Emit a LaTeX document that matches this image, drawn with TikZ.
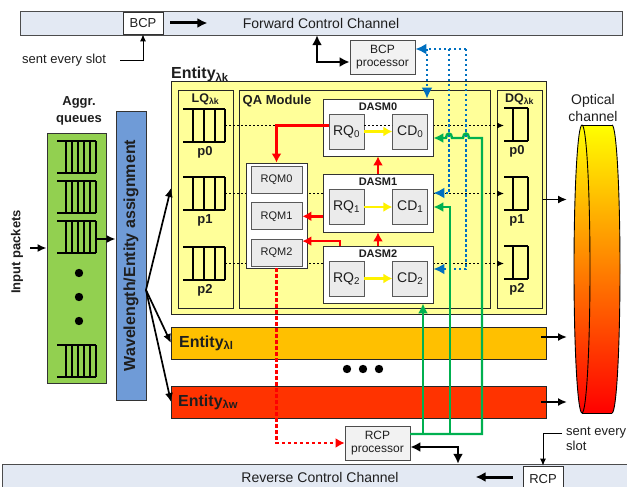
\documentclass[tikz,border=0pt]{standalone}
\usepackage{fontspec}
\setmainfont{Liberation Sans}
\usepackage{xcolor}
\usepackage{tikz}
\usetikzlibrary{arrows.meta,positioning}

\definecolor{chanfill}{HTML}{E3E9F3}
\definecolor{entyellow}{HTML}{FFFF99}
\definecolor{aggrgreen}{HTML}{92D050}
\definecolor{assignblue}{HTML}{6F9BD7}
\definecolor{entorange}{HTML}{FFC000}
\definecolor{entred}{HTML}{FF3300}
\definecolor{ctlblue}{HTML}{0070C0}
\definecolor{ctlgreen}{HTML}{00B050}
\definecolor{procgray}{HTML}{F2F2F2}
\definecolor{cellgray}{HTML}{EBEBEB}
\definecolor{ink}{HTML}{1E1E1E}

\begin{document}
\begin{tikzpicture}[
  x=1pt, y=-1pt,
  every node/.style={text=ink, inner sep=0pt},
  chan/.style={draw=black!70, fill=chanfill, font=\fontsize{14}{14}\selectfont},
  tag/.style={draw=black!80, fill=white, line width=0.8pt, minimum width=40pt, font=\fontsize{13}{13}\selectfont},
  proc/.style={draw=black!70, fill=procgray, line width=0.8pt, align=center, minimum width=65pt, minimum height=34pt, font=\fontsize{12}{13}\selectfont},
  frame/.style={draw=black!85, fill=entyellow, line width=1pt},
  ent/.style={draw=black!85, line width=1pt, minimum width=375pt, minimum height=32pt},
  dasm/.style={draw=black!80, fill=white, line width=0.8pt, minimum width=110pt},
  cell/.style={draw=black!65, fill=cellgray, line width=0.8pt, minimum width=35pt, minimum height=35pt, font=\fontsize{14}{14}\selectfont},
  rqmcell/.style={draw=black!65, fill=cellgray, line width=0.8pt, minimum width=51pt, minimum height=27pt, font=\fontsize{11}{11}\selectfont},
  lbl/.style={font=\bfseries\fontsize{13}{17}\selectfont, align=center},
  entlbl/.style={font=\bfseries\fontsize{16}{16}\selectfont},
  sublbl/.style={font=\bfseries\fontsize{12.5}{13}\selectfont},
  dasmlbl/.style={font=\bfseries\fontsize{11}{11}\selectfont},
  note/.style={font=\fontsize{13}{15}\selectfont, align=left},
  queue/.style={line width=1.2pt},
  arrow/.style={-{Latex[length=9pt,width=8pt]}, line width=1.7pt},
  fatarrow/.style={-{Latex[length=10pt,width=10pt]}, line width=3pt},
  twoway/.style={{Latex[length=10pt,width=10pt]}-{Latex[length=10pt,width=10pt]}, line width=2.4pt},
  thinarrow/.style={-{Latex[length=7pt,width=6pt]}, line width=0.9pt},
  dotrow/.style={-{Latex[length=7pt,width=6pt]}, line width=1pt, dash pattern=on 2pt off 2pt},
  redarrow/.style={draw=red, line width=2.5pt, -{Latex[length=9pt,width=10pt]}},
  reddash/.style={redarrow, dash pattern=on 3.5pt off 2.5pt},
  yelarrow/.style={draw=yellow, line width=2.5pt, -{Latex[length=9pt,width=10pt]}},
  bluedot/.style={draw=ctlblue, line width=2.2pt, dash pattern=on 2.5pt off 2.5pt, -{Latex[length=11pt,width=11pt]}},
  greenarrow/.style={draw=ctlgreen, line width=2.4pt, -{Latex[length=10pt,width=10pt]}}
]
\useasboundingbox (0,0) rectangle (627,487);
\clip (0,0) rectangle (627,487);

% control channels
\node[chan, minimum width=602pt, minimum height=24pt] (fcc) at (321,23) {Forward Control Channel};
\node[chan, minimum width=636pt, minimum height=26pt] (rcc) at (320,477) {Reverse Control Channel};
\node[tag, minimum height=22pt] (bcp) at (143,23) {BCP};
\node[tag, minimum height=26pt] (rcp) at (543,479) {RCP};
\draw[fatarrow] ([xshift=7pt]bcp.east) -- ++(37,0);
\draw[fatarrow] ([xshift=-10pt,yshift=2pt]rcp.west) -- ++(-37,0);
\node[note, anchor=west] (sentf) at (22,60) {sent every slot};
\draw[thinarrow] ([xshift=14pt]sentf.east) -| (bcp.south);
\node[note, anchor=north west] (sentr) at (566,427) {sent every\\slot};
\draw[thinarrow] ([xshift=-4pt,yshift=-6pt]sentr.north west) -| (rcp.north);

% processors
\node[proc] (bcpproc) at (382.5,57) {BCP\\processor};
\node[proc] (rcpproc) at (377.5,443) {RCP\\processor};
\draw[twoway] (317,0 |- fcc.south) |- ([yshift=-5pt]bcpproc.west);
\draw[twoway] ([yshift=-4pt]rcpproc.east) -| (458,0 |- rcc.north);

% input side
\node[lbl, rotate=90] (inp) at (17,252) {Input packets};
\node[draw=black!80, fill=aggrgreen, line width=0.9pt, minimum width=59pt, minimum height=250pt] (aggr) at (76.5,258) {};
\node[lbl] (aggrlbl) at (79,111) {Aggr.\\queues};
\node[draw=black!80, fill=assignblue, line width=0.9pt, minimum width=30pt, minimum height=289pt] (assign) at (131,255.5) {};
\node[font=\bfseries\fontsize{16}{16}\selectfont, rotate=90] (assignlbl) at (assign) {Wavelength/Entity assignment};
\foreach \y in {141,181,221,345} {
  \draw[queue] (57,\y) -- (96,\y) (57,\y+32) -- (96,\y+32);
  \foreach \x in {66,72,78,84,90,96} \draw[queue] (\x,\y) -- (\x,\y+32);
}
\foreach \y in {273,297,321} \fill (79,\y) circle[radius=4.2];
\coordinate (pktin) at (30,248);
\draw[arrow] (pktin) -- (aggr.west |- pktin);
\coordinate (aggrout) at (97,239);
\draw[arrow] (aggrout) -- (assign.west |- aggrout);

% entities
\node[ent, fill=entyellow, minimum height=232pt] (entk) at (359,198) {};
\node[ent, fill=entorange] (entl) at (359,343) {};
\node[ent, fill=entred] (entw) at (359,402) {};
\node[entlbl, anchor=base west] (entklbl) at (171,79) {Entity\textsubscript{λk}};
\node[entlbl, anchor=west] (entllbl) at ([xshift=8pt]entl.west) {Entity\textsubscript{λl}};
\node[entlbl, anchor=west] (entwlbl) at ([xshift=7pt]entw.west) {Entity\textsubscript{λw}};
\foreach \x in {347,363,379} \fill (\x,369) circle[radius=4.2];
\coordinate (fan) at (146,290);
\draw[arrow] (fan) -- ([yshift=10pt]entk.west);
\draw[arrow] (fan) -- (entl.west);
\draw[arrow] (fan) -- (entw.west);

\node[frame, minimum width=55pt, minimum height=217pt] (lq) at (205.5,199.5) {};
\node[frame, minimum width=251pt, minimum height=217pt] (qa) at (364.5,199.5) {};
\node[frame, minimum width=45pt, minimum height=217pt] (dq) at (519.5,199.5) {};
\node[sublbl, anchor=north] (lqlbl) at ([yshift=-3pt]lq.north) {LQ\textsubscript{λk}};
\node[lbl, anchor=north west] (qalbl) at ([xshift=4pt,yshift=-4pt]qa.north west) {QA Module};
\node[sublbl, anchor=north] (dqlbl) at ([yshift=-3pt]dq.north) {DQ\textsubscript{λk}};

% priority queues
\foreach \y/\i in {109/0,177/1,247/2} {
  \draw[queue] (183,\y) -- (225,\y) (183,\y+33) -- (225,\y+33);
  \foreach \x in {193,204,215,225} \draw[queue] (\x,\y) -- (\x,\y+33);
  \node[lbl] (lqp\i) at (205,\y+43) {p\i};
  \coordinate (lqo\i) at (225,\y+16.5);
}
\foreach \y/\i in {108/0,177/1,246/2} {
  \draw[queue] (504,\y) -- (528,\y) (504,\y+33) -- (528,\y+33);
  \foreach \x in {513,528} \draw[queue] (\x,\y) -- (\x,\y+33);
  \node[lbl] (dqp\i) at (517,\y+43) {p\i};
  \coordinate (dqi\i) at (504,\y+16.5);
}
\foreach \i in {0,1,2} \draw[dotrow] (lqo\i) -- (dqi\i |- lqo\i);

% QA module
\node[draw=black!80, fill=white, line width=0.8pt, minimum width=61pt, minimum height=105pt] (rqm) at (276.5,215.5) {};
\node[rqmcell] (rqm0) at (276.5,179.5) {RQM0};
\node[rqmcell, below=9pt of rqm0] (rqm1) {RQM1};
\node[rqmcell, below=9pt of rqm1] (rqm2) {RQM2};
\node[dasm, minimum height=57pt] (dasm0) at (378,127.5) {};
\node[dasm, minimum height=58pt] (dasm1) at (378,203) {};
\node[dasm, minimum height=57pt] (dasm2) at (378,274.5) {};
\foreach \i in {0,1,2} {
  \node[dasmlbl, anchor=north] (dasmlbl\i) at ([yshift=-4pt]dasm\i.north) {DASM\i};
  \node[cell, anchor=west] (rq\i) at ([xshift=6pt,yshift=-4pt]dasm\i.west) {RQ\textsubscript{\i}};
  \node[cell, right=28pt of rq\i] (cd\i) {CD\textsubscript{\i}};
  \draw[yelarrow] (rq\i) -- (cd\i);
}
\draw[line width=1pt, dash pattern=on 2pt off 2pt] ([yshift=6pt]rq0.east) -- ([yshift=6pt]cd0.west);

\draw[redarrow] ([yshift=6pt]rq0.west) -| (rqm.north);
\draw[redarrow] (dasm1.west |- rqm1) -- (rqm1.east);
\draw[redarrow] (340,0 |- dasm2.north) |- ([yshift=12pt]rqm2.east);
\draw[redarrow] (dasm1.north) -- (dasm0.south);
\draw[redarrow] (dasm2.north) -- (dasm1.south);
\draw[reddash] (rqm.south) |- (rcpproc.west);

% control signalling
\coordinate (bcpin) at ([yshift=8pt]bcpproc.east);
\draw[bluedot] (466,0 |- bcpin) -- (bcpin);
\draw[bluedot] (427,0 |- bcpin) -- (427,0 |- dasm0.north);
\draw[bluedot] (449,0 |- bcpin) |- ([yshift=10pt]dasm1.east);
\draw[bluedot] (466,0 |- bcpin) |- ([yshift=5.5pt]dasm2.east);
\coordinate (rcpout) at ([yshift=9pt]rcpproc.east);
\draw[greenarrow] (rcpout) -| (423,0 |- dasm2.south);
\draw[greenarrow] (rcpout) -| (450,0 |- cd1) -- (dasm1.east |- cd1);
\draw[greenarrow] (rcpout) -| (482,138) -- (469,138) .. controls (469,132) and (463,132) .. (463,138)
  -- (452,138) .. controls (452,132) and (446,132) .. (446,138) -- (dasm0.east |- 0,138);

% optical channel
\shade[top color=yellow, middle color=orange, bottom color=red] (582,125) rectangle (612,413);
\shade[top color=yellow, middle color=orange, bottom color=red] (612,269) ellipse[x radius=8, y radius=144];
\shade[top color=yellow, middle color=orange, bottom color=red] (582,269) ellipse[x radius=8, y radius=144];
\begin{scope}
  \clip (612,110) rectangle (625,420);
  \draw[line width=0.9pt] (612,269) ellipse[x radius=8, y radius=144];
\end{scope}
\draw[line width=0.9pt] (582,125) -- (612,125) (582,413) -- (612,413);
\draw[line width=0.9pt] (582,269) ellipse[x radius=8, y radius=144];
\node[font=\fontsize{14}{17}\selectfont, align=center] (optlbl) at (593,108) {Optical\\channel};
\coordinate (ocl) at (567,269);
\draw[arrow] (dq.east) -- (ocl |- dq.east);
\draw[arrow] ([xshift=-6pt,yshift=6pt]entl.east) -- ++(26,0);
\draw[arrow] ([xshift=-6pt]entw.east) -- ++(26,0);
\end{tikzpicture}
\end{document}
